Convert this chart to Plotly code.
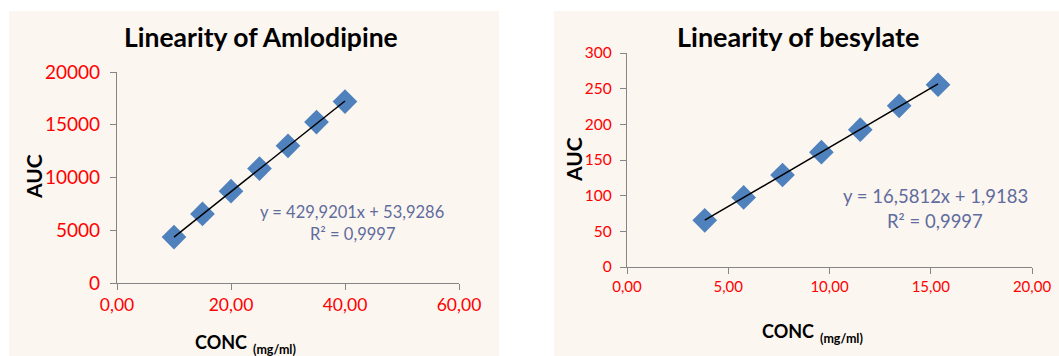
import plotly.graph_objects as go

W, H = 1059, 356

# ---- data ----
conc_aml = [10, 15, 20, 25, 30, 35, 40]
auc_aml = [4350, 6550, 8700, 10850, 13000, 15250, 17200]
slope_aml, icpt_aml = 429.9201, 53.9286
eq_aml = ["y = 429,9201x + 53,9286", "R² = 0,9997"]

conc_bes = [3.84, 5.76, 7.68, 9.60, 11.52, 13.44, 15.36]
auc_bes = [65.5, 97.5, 129, 161, 192.5, 226, 255.5]
slope_bes, icpt_bes = 16.5812, 1.9183
eq_bes = ["y = 16,5812x + 1,9183", "R² = 0,9997"]

titles = ["Linearity of Amlodipine", "Linearity of besylate"]
xlab_main, xlab_unit, ylab = "CONC", "(mg/ml)", "AUC"


def fx(px):
    return px / W


def fy(py):
    return 1 - py / H


FONT = "Lato"
BG = "#FCF6F0"
AXC = "#868686"
MK = "#4F81BD"
EQC = "#5F6C9E"

fig = go.Figure()

# scatter + trendlines
for i, (xs, ys, s, b) in enumerate([(conc_aml, auc_aml, slope_aml, icpt_aml),
                                     (conc_bes, auc_bes, slope_bes, icpt_bes)]):
    xa = "x" if i == 0 else "x2"
    ya = "y" if i == 0 else "y2"
    fig.add_trace(go.Scatter(x=xs, y=ys, mode="markers", xaxis=xa, yaxis=ya,
                             marker=dict(symbol="diamond", size=19, color=MK,
                                         line=dict(width=0)),
                             showlegend=False, hoverinfo="skip"))
    tx = [min(xs), max(xs)]
    ty = [s * v + b for v in tx]
    fig.add_trace(go.Scatter(x=tx, y=ty, mode="lines", xaxis=xa, yaxis=ya,
                             line=dict(color="black", width=1.5),
                             showlegend=False, hoverinfo="skip"))

axis_common = dict(showgrid=False, zeroline=False, showline=True, linecolor=AXC,
                   linewidth=1.3, ticks="outside", ticklen=6, tickcolor=AXC,
                   tickwidth=1.3, mirror=False, automargin=False)

fig.update_layout(
    width=W, height=H, margin=dict(l=0, r=0, t=0, b=0, pad=0),
    paper_bgcolor="white", plot_bgcolor="rgba(0,0,0,0)",
    separators=",.",
    font=dict(family=FONT, color="black"),
    xaxis=dict(domain=[fx(117), fx(459)], range=[0, 60], tickvals=[0, 20, 40, 60],
               tickformat=".2f", anchor="y",
               tickfont=dict(color="#FF0000", size=17.5), **axis_common),
    yaxis=dict(domain=[fy(283), fy(72)], range=[0, 20000],
               tickvals=[0, 5000, 10000, 15000, 20000], tickformat="d", anchor="x",
               tickfont=dict(color="#FF0000", size=19), ticklabelstandoff=6,
               **axis_common),
    xaxis2=dict(domain=[fx(627), fx(1032)], range=[0, 20],
                tickvals=[0, 5, 10, 15, 20], tickformat=".2f", anchor="y2",
                tickfont=dict(color="#FF0000", size=15), **axis_common),
    yaxis2=dict(domain=[fy(267), fy(53)], range=[0, 300],
                tickvals=[0, 50, 100, 150, 200, 250, 300], tickformat="d", anchor="x2",
                tickfont=dict(color="#FF0000", size=15.5), ticklabelstandoff=5,
                **axis_common),
)

# chart area backgrounds
for x0, x1 in [(9, 499), (554, 1059)]:
    fig.add_shape(type="rect", xref="paper", yref="paper", x0=fx(x0), x1=fx(x1),
                  y0=fy(356), y1=fy(11), fillcolor=BG, line=dict(width=0),
                  layer="below")

ann = []
# titles
ann.append(dict(text="<b>" + titles[0] + "</b>", x=fx(261), y=fy(37), font=dict(size=26.5)))
ann.append(dict(text="<b>" + titles[1] + "</b>", x=fx(798), y=fy(37), font=dict(size=27)))
# y-axis titles
ann.append(dict(text="<b>" + ylab + "</b>", x=fx(34), y=fy(177), textangle=-90, font=dict(size=21)))
ann.append(dict(text="<b>" + ylab + "</b>", x=fx(573), y=fy(160), textangle=-90, font=dict(size=21)))
# x-axis titles
ann.append(dict(text="<b>" + xlab_main + "</b>", x=fx(221), y=fy(342), font=dict(size=18)))
ann.append(dict(text="<b>" + xlab_unit + "</b>", x=fx(274.5), y=fy(349), font=dict(size=12.5)))
ann.append(dict(text="<b>" + xlab_main + "</b>", x=fx(787.5), y=fy(331), font=dict(size=18)))
ann.append(dict(text="<b>" + xlab_unit + "</b>", x=fx(841), y=fy(338), font=dict(size=12.5)))
# equations
ann.append(dict(text=eq_aml[0], x=fx(352), y=fy(212), font=dict(size=16.5, color=EQC)))
ann.append(dict(text=eq_aml[1], x=fx(352), y=fy(234), font=dict(size=16.5, color=EQC)))
ann.append(dict(text=eq_bes[0], x=fx(935), y=fy(196), font=dict(size=18.5, color=EQC)))
ann.append(dict(text=eq_bes[1], x=fx(935), y=fy(221), font=dict(size=18.5, color=EQC)))

for a in ann:
    a.update(xref="paper", yref="paper", showarrow=False, xanchor="center",
             yanchor="middle")
    a.setdefault("font", {})
    a["font"].setdefault("family", FONT)
    a["font"].setdefault("color", "black")
    fig.add_annotation(**a)

fig.write_html("out.html")
